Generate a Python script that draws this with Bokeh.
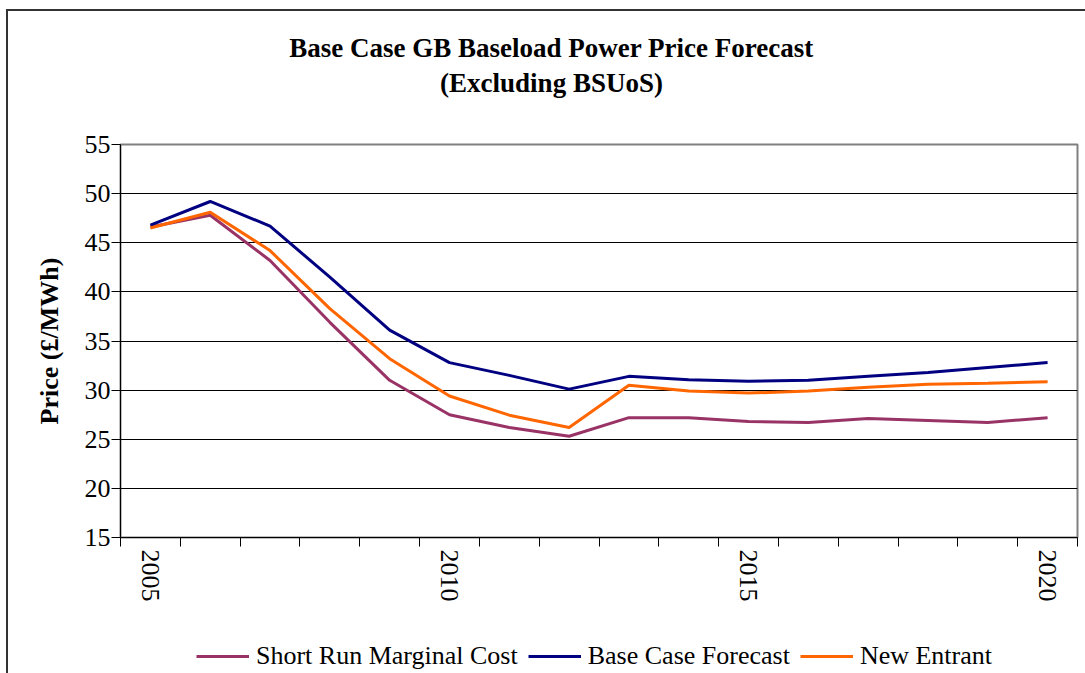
from bokeh.plotting import figure
from bokeh.layouts import column
from bokeh.models import FixedTicker, Legend, LegendItem, Label, ColumnDataSource, Range1d
from bokeh.embed import file_html
from bokeh.resources import INLINE

years = list(range(2005, 2021))
srmc = [46.6, 47.8, 43.2, 36.9, 31.0, 27.5, 26.2, 25.3, 27.2, 27.2, 26.8, 26.7, 27.1, 26.9, 26.7, 27.2]
base_case = [46.8, 49.2, 46.7, 41.5, 36.1, 32.8, 31.5, 30.1, 31.4, 31.05, 30.9, 31.0, 31.4, 31.8, 32.3, 32.8]
new_entrant = [46.5, 48.1, 44.2, 38.3, 33.2, 29.4, 27.45, 26.2, 30.5, 29.9, 29.7, 29.9, 30.3, 30.6, 30.7, 30.85]
series_names = ["Short Run Marginal Cost", "Base Case Forecast", "New Entrant"]
series_colors = ["#993366", "#000080", "#FF6600"]
y_ticks = [15, 20, 25, 30, 35, 40, 45, 50, 55]
x_label_years = [2005, 2010, 2015, 2020]
title_lines = ["Base Case GB Baseload Power Price Forecast", "(Excluding BSUoS)"]

SERIF = "'Liberation Serif'"
W = 1077
FRAME_L, FRAME_R = 120, 1077   # page x of the aligned plot frames

src = ColumnDataSource(dict(x=years, a=srmc, b=base_case, c=new_entrant))
cols = ["a", "b", "c"]

# ---------- title strip (frame aligned with main chart frame) ----------
TH = 118
p0 = figure(width=W, height=TH, x_range=Range1d(FRAME_L, FRAME_R), y_range=Range1d(TH, 0),
            x_axis_location=None, y_axis_location=None, min_border=0,
            toolbar_location=None, output_backend="svg")
p0.outline_line_color = None
p0.grid.grid_line_color = None
for txt, ty in zip(title_lines, [36, 71]):
    p0.add_layout(Label(x=551, y=ty, text=txt, text_align="center", text_baseline="middle",
                        text_font=SERIF, text_font_size="27px", text_font_style="bold", text_color="black"))

# ---------- main chart ----------
p = figure(frame_width=957, frame_height=393, output_backend="svg", toolbar_location=None,
           x_range=(2004.5, 2020.5), y_range=(15, 55),
           min_border_left=112, min_border_right=8, min_border_top=15, min_border_bottom=70)
p.outline_line_color = "#808080"
p.outline_line_width = 2

for col, c in zip(cols, series_colors):
    p.line("x", col, source=src, line_color=c, line_width=3)

p.xaxis.ticker = FixedTicker(ticks=x_label_years, minor_ticks=[y - 0.5 for y in years] + [2020.5])
p.xaxis.major_tick_out = 0
p.xaxis.major_tick_in = 0
p.xaxis.minor_tick_out = 9
p.xaxis.minor_tick_in = 0
p.xaxis.minor_tick_line_color = "black"
p.xaxis.major_label_orientation = "vertical"
p.xaxis.major_label_standoff = 3
p.xaxis.major_label_text_font = SERIF
p.xaxis.major_label_text_font_size = "26px"
p.xaxis.major_label_text_color = "black"
p.xaxis.axis_line_color = "black"

p.yaxis.ticker = FixedTicker(ticks=y_ticks)
p.yaxis.major_tick_out = 9
p.yaxis.major_tick_in = 0
p.yaxis.minor_tick_out = 0
p.yaxis.major_label_standoff = 1
p.yaxis.major_label_text_font = SERIF
p.yaxis.major_label_text_font_size = "26px"
p.yaxis.major_label_text_color = "black"
p.yaxis.axis_line_color = "black"
p.yaxis.axis_label = "Price (£/MWh)"
p.yaxis.axis_label_text_font = SERIF
p.yaxis.axis_label_text_font_size = "26px"
p.yaxis.axis_label_text_font_style = "bold"
p.yaxis.axis_label_text_color = "black"
p.yaxis.axis_label_standoff = 18

p.xgrid.grid_line_color = None
p.ygrid.ticker = FixedTicker(ticks=y_ticks[1:-1])
p.ygrid.grid_line_color = "#000000"
p.ygrid.grid_line_width = 1

# ---------- legend strip (series drawn out of view, only legend visible) ----------
p2 = figure(width=W, height=66, x_range=Range1d(0, 1), y_range=Range1d(0, 1),
            x_axis_location=None, y_axis_location=None, min_border=0,
            toolbar_location=None, output_backend="svg")
p2.outline_line_color = None
p2.grid.grid_line_color = None
items = []
for name, col, c in zip(series_names, cols, series_colors):
    r = p2.line("x", col, source=src, line_color=c, line_width=3)
    items.append(LegendItem(label=name, renderers=[r]))
legend = Legend(items=items, orientation="horizontal", location=(76, 2),
                glyph_width=53, glyph_height=20, label_standoff=7, spacing=10,
                label_text_font=SERIF, label_text_font_size="26px", label_text_color="black",
                border_line_color=None, background_fill_alpha=0, padding=4, margin=0)
p2.add_layout(legend, "center")

layout = column(p0, p, p2, spacing=0,
                styles={"border-left": "2px solid #333333", "border-top": "2px solid #333333",
                        "margin-left": "6px", "margin-top": "9px"})

open("out.html", "w").write(file_html(layout, INLINE))
